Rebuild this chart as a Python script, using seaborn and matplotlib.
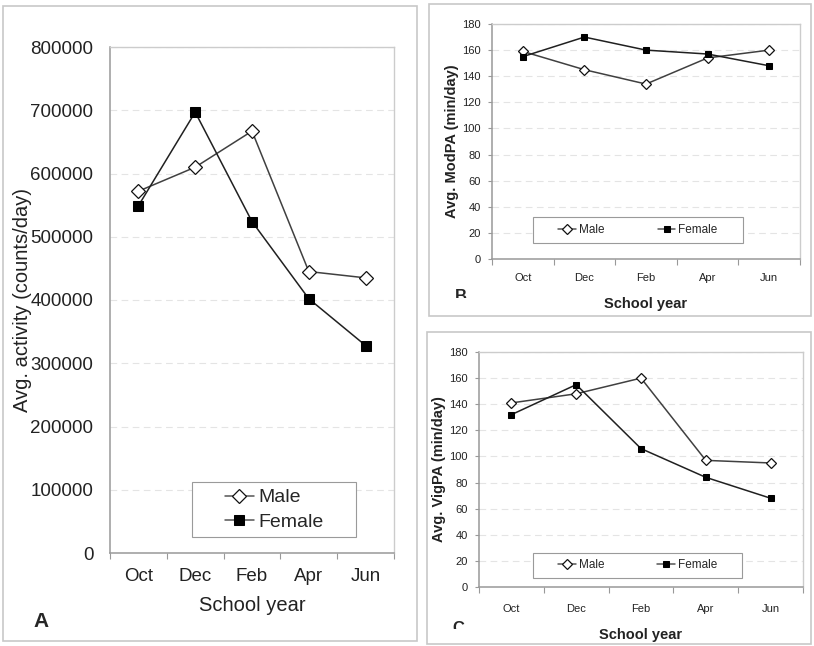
import pandas as pd
import matplotlib.pyplot as plt
import seaborn as sns
from matplotlib.patches import Rectangle
from matplotlib.ticker import FixedLocator
from matplotlib.transforms import Bbox

# Values
months = ['Oct', 'Dec', 'Feb', 'Apr', 'Jun']

activity_male = [572000, 610000, 667000, 445000, 435000]
activity_female = [549000, 697000, 524000, 402000, 328000]

modpa_male = [159, 145, 134, 154, 160]
modpa_female = [155, 170, 160, 157, 148]

vigpa_male = [141, 148, 160, 97, 95]
vigpa_female = [132, 155, 106, 84, 68]

sns.set_style('white')
plt.rcParams['font.family'] = ['Liberation Sans', 'DejaVu Sans']

W, H = 814, 646
fig = plt.figure(figsize=(W / 100, H / 100), dpi=100)


def px_axes(left, top, right, bottom):
    # pixel box (from top-left) -> figure fraction axes
    return fig.add_axes([left / W, 1 - bottom / H, (right - left) / W, (bottom - top) / H])


def frame(left, top, right, bottom):
    fig.add_artist(Rectangle((left / W, 1 - bottom / H), (right - left) / W, (bottom - top) / H,
                             transform=fig.transFigure, fill=False, edgecolor='#c8c8c8', lw=1.2))


def draw_panel(ax, male, female, ymax, ystep, ylabel, fs_tick, fs_lab, bold, msize, ytick_len, ypad, xpad):
    df = pd.DataFrame({'month': months * 2,
                       'value': male + female,
                       'sex': ['Male'] * len(months) + ['Female'] * len(months)})
    sns.lineplot(data=df[df['sex'] == 'Male'], x='month', y='value', ax=ax, color='#404040', lw=1.1,
                 marker='D', markersize=msize, markerfacecolor='white', markeredgecolor='#111111',
                 markeredgewidth=0.9, label='Male')
    sns.lineplot(data=df[df['sex'] == 'Female'], x='month', y='value', ax=ax, color='#202020', lw=1.1,
                 marker='s', markersize=msize, markerfacecolor='black', markeredgecolor='black',
                 label='Female')
    ax.set_xlim(-0.5, len(months) - 0.5)
    ax.set_ylim(0, ymax)
    ax.set_yticks(range(0, ymax + 1, ystep))
    ax.yaxis.grid(True, linestyle=(0, (6, 4)), color='#e4e4e4', lw=0.8)
    ax.set_axisbelow(True)
    ax.xaxis.set_minor_locator(FixedLocator([i + 0.5 for i in range(-1, len(months))]))
    ax.tick_params(axis='x', which='major', length=0, labelsize=fs_tick, pad=xpad, labelcolor='#222222')
    ax.tick_params(axis='x', which='minor', length=4, width=0.8, color='#999999', direction='out', bottom=True)
    ax.tick_params(axis='y', length=ytick_len, width=0.8, color='#999999', direction='out', left=True,
                   labelsize=fs_tick, pad=ypad, labelcolor='#222222')
    for s in ['left', 'bottom']:
        ax.spines[s].set_color('#999999')
        ax.spines[s].set_linewidth(1.1)
    for s in ['top', 'right']:
        ax.spines[s].set_color('#cccccc')
        ax.spines[s].set_linewidth(1.0)
    weight = 'bold' if bold else 'normal'
    ax.set_xlabel('School year', fontsize=fs_lab, fontweight=weight, color='#222222')
    ax.set_ylabel(ylabel, fontsize=fs_lab, fontweight=weight, color='#222222')
    return ax


def legend_box(ax, box, ncol, fs, handlelength, colspace, labelspacing):
    x0, y0, w, h = box
    ax.add_patch(Rectangle((x0, y0), w, h, transform=ax.transAxes, fill=True, facecolor='white',
                           edgecolor='#9a9a9a', lw=0.8, zorder=5))
    leg = ax.legend(loc='center', bbox_to_anchor=(x0 + w / 2, y0 + h / 2), ncol=ncol, fontsize=fs,
                    frameon=False, handlelength=handlelength, handletextpad=0.25,
                    columnspacing=colspace, labelspacing=labelspacing, borderpad=0)
    leg.set_zorder(6)
    for line in leg.get_lines():
        line.set_color('#555555')


# Panel A
frame(3, 6, 417, 641)
axA = px_axes(110, 47, 394, 553)
draw_panel(axA, activity_male, activity_female, 800000, 100000, 'Avg. activity (counts/day)',
           13.5, 14.5, False, 7, 0, 12, 11)
axA.xaxis.labelpad = 8
axA.yaxis.labelpad = -1
legend_box(axA, (0.289, 0.031, 0.578, 0.109), 1, 14, 1.5, 1.0, 0.35)
fig.text(33 / W, 1 - 627 / H, 'A', fontsize=15, fontweight='bold')

# Panel B
frame(429, 4, 811, 316)
axB = px_axes(492, 24, 800, 259)
draw_panel(axB, modpa_male, modpa_female, 180, 20, 'Avg. ModPA (min/day)',
           8, 10.5, True, 5, 3, 5, 10)
axB.xaxis.labelpad = 10
axB.yaxis.labelpad = 2
legend_box(axB, (0.133, 0.068, 0.682, 0.111), 2, 8.5, 1.5, 4.5, 0.3)
tB = fig.text(455 / W, 1 - 301 / H, 'B', fontsize=12, fontweight='bold')
tB.set_clip_box(Bbox([[0, H - 298], [W, H]]))

# Panel C
frame(427, 332, 811, 644)
axC = px_axes(479, 352, 803, 587)
draw_panel(axC, vigpa_male, vigpa_female, 180, 20, 'Avg. VigPA (min/day)',
           8, 10.5, True, 5, 3, 5, 12)
axC.xaxis.labelpad = 10
axC.yaxis.labelpad = 2
legend_box(axC, (0.167, 0.038, 0.645, 0.107), 2, 8.5, 1.5, 4.5, 0.3)
tC = fig.text(452 / W, 1 - 633 / H, 'C', fontsize=12, fontweight='bold')
tC.set_clip_box(Bbox([[0, H - 629], [W, H]]))

plt.savefig('out.png', dpi=100)
plt.close()
